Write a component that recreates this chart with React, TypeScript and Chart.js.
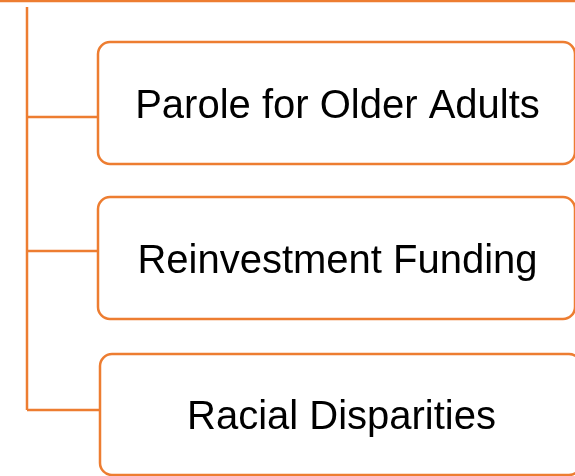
import React, { useEffect, useRef } from "react";
import { Chart, registerables } from "chart.js";

Chart.register(...registerables);

// Diagram content (abstract units on a 575 x 476 grid)
const boxLabels = ["Parole for Older Adults", "Reinvestment Funding", "Racial Disparities"];
const boxLeft = [98, 98, 100];
const boxRight = [575, 575, 581];
const boxTop = [42, 197, 354];
const boxBottom = [164, 319, 475];
const connectorY = [117, 251, 410];
const trunkX = 27;
const trunkTop = 7;
const parentBottomY = 1;

const ORANGE = "#ED7D31";

const boxPlugin = {
  id: "boxes",
  afterDatasetsDraw(chart: any) {
    const { ctx, scales } = chart;
    const xs = scales.x;
    const ys = scales.y;
    ctx.save();
    boxLabels.forEach((label, i) => {
      const l = xs.getPixelForValue(boxLeft[i]);
      const r = xs.getPixelForValue(boxRight[i]);
      const t = ys.getPixelForValue(boxTop[i]);
      const b = ys.getPixelForValue(boxBottom[i]);
      ctx.beginPath();
      ctx.roundRect(l, t, r - l, b - t, 12);
      ctx.fillStyle = "#ffffff";
      ctx.fill();
      ctx.lineWidth = 2.5;
      ctx.strokeStyle = ORANGE;
      ctx.stroke();
      ctx.fillStyle = "#000000";
      ctx.font = '40px "Liberation Sans", Arial, sans-serif';
      ctx.textAlign = "center";
      ctx.textBaseline = "alphabetic";
      ctx.fillText(label, (l + r) / 2 + 1, (t + b) / 2 + 14.5);
    });
    ctx.restore();
  },
};

export default function App() {
  const ref = useRef<HTMLCanvasElement | null>(null);
  useEffect(() => {
    document.body.style.margin = "0";
    const lineDs = (data: { x: number; y: number }[]) => ({
      type: "line" as const,
      data,
      borderColor: ORANGE,
      borderWidth: 2.5,
      pointRadius: 0,
      showLine: true,
      clip: false as any,
      tension: 0,
    });
    const datasets: any[] = [
      lineDs([
        { x: 0, y: parentBottomY },
        { x: 575, y: parentBottomY },
      ]),
      lineDs([
        { x: trunkX, y: trunkTop },
        { x: trunkX, y: connectorY[connectorY.length - 1] },
      ]),
      ...connectorY.map((cy, i) =>
        lineDs([
          { x: trunkX, y: cy },
          { x: boxLeft[i], y: cy },
        ])
      ),
    ];
    const chart = new Chart(ref.current!, {
      type: "scatter",
      data: { datasets },
      options: {
        animation: false,
        responsive: false,
        events: [],
        layout: { padding: 0 },
        plugins: { legend: { display: false }, tooltip: { enabled: false } },
        scales: {
          x: { type: "linear", min: 0, max: 575, display: false },
          y: { type: "linear", min: 0, max: 476, reverse: true, display: false },
        },
      },
      plugins: [boxPlugin],
    });
    return () => chart.destroy();
  }, []);
  return (
    <div style={{ position: "fixed", left: 0, top: 0, width: 575, height: 476, background: "#fff" }}>
      <canvas ref={ref} width={575} height={476} style={{ width: 575, height: 476, display: "block" }} />
    </div>
  );
}
